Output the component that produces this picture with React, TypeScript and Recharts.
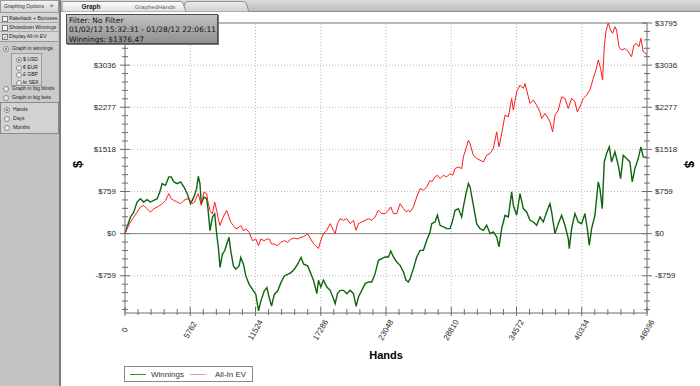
import { Line, LineChart, ReferenceLine, XAxis, YAxis } from "recharts";

// axis scaffolding
const HAND_STEP = 5762;
const HAND_MAX = 46096;
const DOLLAR_STEP = 759;
const DOLLAR_MAX = 3795;
const DOLLAR_MIN = -1430;

const handTickLabels = [0, 5762, 11524, 17286, 23048, 28810, 34572, 40334, 46096];
const dollarTickLabels = [-759, 0, 759, 1518, 2277, 3036, 3795];

// series (hands, dollars)
const winningsHands = [
  0, 177, 473, 768, 1064, 1359, 1655, 1950, 2246, 2541, 2837, 3073, 3280, 3576, 3871, 4078, 4314, 4610, 4905,
  5201, 5496, 5792, 5940, 6146, 6324, 6471, 6619, 6737, 6974, 7210, 7328, 7506, 7713, 7919, 8097, 8244, 8392,
  8599, 8806, 8983, 9190, 9338, 9574, 9781, 10077, 10224, 10461, 10668, 10963, 11259, 11554, 11790, 11997,
  12293, 12529, 12736, 12943, 13179, 13475, 13770, 14066, 14361, 14657, 14952, 15248, 15543, 15780, 16134,
  16645, 16940, 17087, 17292, 17528, 17822, 18116, 18410, 18557, 18763, 18998, 19292, 19586, 19881, 20175,
  20410, 20616, 20910, 21204, 21498, 21792, 22086, 22380, 22674, 22969, 23263, 23469, 23704, 23998, 24292,
  24586, 24821, 25027, 25174, 25468, 25762, 26057, 26351, 26645, 26939, 27086, 27380, 27586, 27821, 28115,
  28409, 28704, 28939, 29145, 29439, 29733, 29880, 30115, 30321, 30469, 30763, 31057, 31351, 31645, 31940,
  32234, 32528, 32822, 33028, 33263, 33557, 33851, 34145, 34292, 34586, 34881, 35175, 35469, 35763, 36057,
  36351, 36645, 36939, 37233, 37527, 37674, 37969, 38263, 38557, 38851, 39145, 39233, 39439, 39733, 40027,
  40322, 40616, 40822, 40998, 41204, 41498, 41792, 41939, 42145, 42321, 42527, 42763, 42968, 43263, 43557,
  43763, 43998, 44292, 44586, 44792, 45027, 45321, 45557, 45763, 46096,
];
const winnings = [
  0, 115, 296, 387, 569, 629, 569, 611, 569, 599, 629, 750, 901, 871, 1022, 1022, 932, 901, 932,
  841, 720, 538, 599, 690, 811, 1034, 901, 538, 659, 629, 448, 54, 296, 357, -6, -248, -611,
  -369, -309, -188, -67, -309, -581, -641, -581, -430, -551, -762, -914, -1004, -1095, -1390, -1216,
  -1035, -974, -1156, -1307, -1095, -1035, -883, -762, -732, -702, -641, -551, -430, -551, -581,
  -841, -1082, -841, -962, -841, -962, -1022, -1172, -1262, -1082, -1022, -1022, -1082, -1022, -1082,
  -1310, -1142, -1022, -901, -871, -871, -721, -481, -451, -421, -421, -313, -421, -511, -571,
  -691, -841, -871, -811, -631, -421, -301, -301, -120, 30, 180, 210, 331, 150, 120,
  90, 90, 240, 421, 451, 300, 481, 721, 902, 841, 511, 180, 90, 60, 150,
  0, 30, -60, -240, 90, 331, 301, 751, 511, 331, 721, 451, 391, 240, 210,
  150, 301, 210, 391, 541, 391, 0, 180, 331, 150, -90, -270, 90, 361, 210,
  180, 361, 90, -210, 90, 331, 932, 811, 451, 1292, 1442, 1562, 1292, 1473, 1232,
  992, 1412, 1352, 1292, 932, 1172, 1352, 1562, 1382, 1376,
];

const allInEvHands = [
  0, 177, 473, 768, 1064, 1359, 1655, 1950, 2246, 2541, 2837, 3073, 3280, 3576, 3871, 4078, 4314, 4610, 4905,
  5201, 5496, 5792, 5940, 6146, 6324, 6471, 6619, 6737, 6974, 7210, 7328, 7506, 7713, 7919, 8097, 8244, 8392,
  8599, 8806, 8983, 9190, 9338, 9574, 9781, 10077, 10224, 10461, 10668, 10963, 11259, 11554, 11790, 11997,
  12293, 12529, 12736, 12943, 13179, 13475, 13770, 14066, 14361, 14657, 14952, 15248, 15543, 15780, 16134,
  16645, 16940, 17087, 17292, 17528, 17822, 18116, 18410, 18557, 18763, 18998, 19292, 19586, 19881, 20175,
  20410, 20616, 20910, 21204, 21498, 21792, 22086, 22380, 22674, 22969, 23263, 23469, 23704, 23998, 24292,
  24586, 24821, 25027, 25174, 25468, 25762, 26057, 26351, 26645, 26939, 27086, 27380, 27586, 27821, 28115,
  28409, 28704, 28939, 29145, 29439, 29733, 29880, 30115, 30321, 30469, 30763, 31057, 31351, 31645, 31940,
  32234, 32528, 32822, 33028, 33263, 33557, 33851, 34145, 34292, 34586, 34881, 35175, 35322, 35469, 35763,
  36057, 36351, 36645, 36792, 37086, 37380, 37527, 37763, 37969, 38263, 38557, 38851, 39145, 39439, 39733,
  39939, 40174, 40469, 40763, 41057, 41351, 41586, 41792, 41998, 42174, 42321, 42468, 42674, 42880, 43057,
  43263, 43409, 43615, 43851, 44145, 44439, 44733, 44939, 45174, 45380, 45557, 45763, 46096,
];
const allInEv = [
  0, 85, 206, 296, 387, 478, 508, 448, 387, 448, 478, 508, 538, 599, 720, 629, 599, 569, 538,
  599, 629, 599, 538, 569, 659, 720, 599, 508, 750, 720, 569, 417, 357, 569, 417, 266, 145,
  266, 357, 417, 296, 206, 145, 85, 115, 145, 54, 85, 24, -127, -97, -218, -97,
  -127, -97, -97, -188, -188, -218, -157, -127, -157, -97, -79, -97, -67, -54, -6,
  -180, -240, -270, -120, 0, 60, 180, 60, 0, 180, 270, 240, 270, 180, 240,
  60, 180, 210, 240, 270, 240, 300, 421, 361, 361, 421, 481, 361, 361, 541,
  451, 391, 421, 391, 481, 661, 811, 781, 841, 962, 932, 1022, 1052, 992, 1052,
  1022, 1082, 1052, 1172, 1202, 1172, 1382, 1533, 1683, 1623, 1413, 1353, 1323, 1292, 1413,
  1443, 1533, 1834, 1563, 1804, 2135, 2105, 2435, 2225, 2556, 2676, 2616, 2706, 2586, 2345,
  2405, 2315, 2195, 2075, 2165, 2075, 2014, 1834, 2135, 2225, 2466, 2436, 2255, 2436, 2375,
  2195, 2285, 2436, 2496, 2586, 2796, 2946, 3127, 2976, 2766, 3367, 3638, 3795, 3668, 3608,
  3728, 3668, 3367, 3307, 3337, 3277, 3187, 3397, 3427, 3367, 3518, 3277, 3230,
];

const winningsData = winningsHands.map((h, i) => ({ h, v: winnings[i] }));
const allInEvData = allInEvHands.map((h, i) => ({ h, v: allInEv[i] }));

// five minor steps per labelled step
const handTicks = Array.from({ length: 41 }, (_, i) => (i * HAND_STEP) / 5);
const dollarTicks = Array.from({ length: 35 }, (_, i) => ((i - 9) * DOLLAR_STEP) / 5);
const handMajor = new Set(handTickLabels);
const dollarMajor = new Set(dollarTickLabels);

const AXIS = "#6e6e6e";
const LABEL = "#2a2a2a";
const GRID = "#bcbcbc";
const SANS = '"Liberation Sans", Arial, sans-serif';
const TICK_FONT = { fontFamily: SANS, fontSize: 8 };

const fmtDollar = (v: number) => (v < 0 ? `-$${Math.abs(v)}` : `$${v}`);

function BottomTick({ x, y, payload }: any) {
  const major = handMajor.has(payload.value);
  const axisY = y - 2;
  return (
    <g>
      <line x1={x} x2={x} y1={axisY - (major ? 6 : 4)} y2={axisY + (major ? 3 : 2)} stroke={AXIS} />
      {major && (
        <text
          transform={`translate(${x},${axisY + 17}) rotate(-60)`}
          textAnchor="middle"
          dominantBaseline="central"
          fill={LABEL}
          style={TICK_FONT}
        >
          {payload.value}
        </text>
      )}
    </g>
  );
}

function TopTick({ x, y, payload }: any) {
  const major = handMajor.has(payload.value);
  return <line x1={x} x2={x} y1={y} y2={y + (major ? 5 : 3)} stroke={AXIS} />;
}

function LeftTick({ x, y, payload }: any) {
  const major = dollarMajor.has(payload.value);
  const axisX = x + 8;
  // the top label sits under the filter box in the original, so it is left out
  const showLabel = major && payload.value !== DOLLAR_MAX;
  return (
    <g>
      <line x1={axisX - (major ? 5 : 3)} x2={axisX + (major ? 5 : 3)} y1={y} y2={y} stroke={AXIS} />
      {showLabel && (
        <text x={axisX - 9} y={y} textAnchor="end" dominantBaseline="central" fill={LABEL} style={TICK_FONT}>
          {fmtDollar(payload.value)}
        </text>
      )}
    </g>
  );
}

function RightTick({ x, y, payload }: any) {
  const major = dollarMajor.has(payload.value);
  const axisX = x - 8;
  return (
    <g>
      <line x1={axisX - (major ? 5 : 3)} x2={axisX + (major ? 5 : 3)} y1={y} y2={y} stroke={AXIS} />
      {major && (
        <text x={axisX + 8} y={y} textAnchor="start" dominantBaseline="central" fill={LABEL} style={TICK_FONT}>
          {fmtDollar(payload.value)}
        </text>
      )}
    </g>
  );
}

function Check({ on }: { on?: boolean }) {
  return (
    <span
      style={{
        position: "absolute", left: 2, top: 1, width: 4, height: 4, background: "#f4f4f4",
        border: "1px solid #7a7a7a", fontSize: 5, lineHeight: "4px", color: "#333", textAlign: "center",
      }}
    >
      {on ? "✓" : ""}
    </span>
  );
}

function Radio({ on, left }: { on?: boolean; left: number }) {
  return (
    <span
      style={{
        position: "absolute", left, top: 1, width: 4, height: 4, borderRadius: 3, background: "#eeeeee",
        border: "1px solid #8a8a8a", boxSizing: "content-box",
      }}
    >
      {on && (
        <span style={{ position: "absolute", left: 1, top: 1, width: 2, height: 2, borderRadius: 1, background: "#3c6a9e" }} />
      )}
    </span>
  );
}

function Row({ top, left, text, children }: { top: number; left: number; text: string; children?: any }) {
  return (
    <div style={{ position: "absolute", top, left: 0, width: 58, height: 7 }}>
      {children}
      <span style={{ position: "absolute", left, top: 0, fontSize: 5.1, lineHeight: "7px", color: "#222", whiteSpace: "nowrap" }}>
        {text}
      </span>
    </div>
  );
}

function Sidebar() {
  return (
    <div style={{ position: "absolute", left: 0, top: 0, width: 59, height: 386, background: "#c3c3c3", borderRight: "2px solid #7c7c7c", fontFamily: SANS }}>
      <div style={{ position: "absolute", left: 0, top: 0, width: 57, height: 11, background: "linear-gradient(#f2f2f2,#d2d2d2)", border: "1px solid #9a9a9a" }}>
        <span style={{ position: "absolute", left: 3, top: 2, fontSize: 5.1, color: "#333", whiteSpace: "nowrap" }}>Graphing Options</span>
        <span style={{ position: "absolute", left: 49, top: 1, fontSize: 6, color: "#333" }}>«</span>
      </div>
      <div style={{ position: "absolute", left: 0, top: 13, width: 58, height: 28, background: "#d6d6d6", borderBottom: "1px solid #9a9a9a" }}>
        <div style={{ position: "absolute", left: 0, top: 8.5, width: 58, height: 0, borderTop: "1px solid #a8a8a8" }} />
        <div style={{ position: "absolute", left: 0, top: 17.5, width: 58, height: 0, borderTop: "1px solid #a8a8a8" }} />
        <Row top={2} left={9} text="Rakeback + Bonuses"><Check /></Row>
        <Row top={10.5} left={9} text="Showdown Winnings"><Check /></Row>
        <Row top={19.5} left={9} text="Display All-In EV"><Check on /></Row>
      </div>
      <div style={{ position: "absolute", left: 0, top: 42, width: 58, height: 60, background: "#cbcbcb" }}>
        <Row top={3} left={12} text="Graph in winnings"><Radio on left={3} /></Row>
        <div style={{ position: "absolute", left: 11, top: 11, width: 29, height: 31, background: "#d4d4d4", border: "1px solid #9c9c9c" }}>
          <div style={{ position: "absolute", left: -11, top: 0 }}>
            <Row top={2} left={22} text="$ USD"><Radio on left={15} /></Row>
            <Row top={9.5} left={22} text="€ EUR"><Radio left={15} /></Row>
            <Row top={17} left={22} text="£ GBP"><Radio left={15} /></Row>
            <Row top={24.5} left={22} text="kr SEK"><Radio left={15} /></Row>
          </div>
        </div>
        <Row top={43} left={12} text="Graph in big blinds"><Radio left={3} /></Row>
        <Row top={52} left={12} text="Graph in big bets"><Radio left={3} /></Row>
      </div>
      <div style={{ position: "absolute", left: 0, top: 102, width: 57, height: 30, background: "#d2d2d2", border: "1px solid #8a8a8a" }}>
        <Row top={3} left={12} text="Hands"><Radio on left={3} /></Row>
        <Row top={12} left={12} text="Days"><Radio left={3} /></Row>
        <Row top={21} left={12} text="Months"><Radio left={3} /></Row>
      </div>
    </div>
  );
}

function TabBar() {
  return (
    <svg width={639} height={12} style={{ position: "absolute", left: 61, top: 0 }}>
      <defs>
        <linearGradient id="barG" x1="0" y1="0" x2="0" y2="1">
          <stop offset="0" stopColor="#dcdcdc" />
          <stop offset="1" stopColor="#b9b9b9" />
        </linearGradient>
        <linearGradient id="tabG" x1="0" y1="0" x2="0" y2="1">
          <stop offset="0" stopColor="#fdfdfd" />
          <stop offset="1" stopColor="#dedede" />
        </linearGradient>
        <linearGradient id="tab2G" x1="0" y1="0" x2="0" y2="1">
          <stop offset="0" stopColor="#ececec" />
          <stop offset="1" stopColor="#cfcfcf" />
        </linearGradient>
      </defs>
      <rect x={0} y={0} width={639} height={12} fill="url(#barG)" />
      <line x1={0} x2={639} y1={11.5} y2={11.5} stroke="#8c8c8c" />
      <path d="M121,12 L124,3 Q125,1.5 127,1.5 L182,1.5 Q184,1.5 185,3 L188,12 Z" fill="url(#tab2G)" stroke="#8f8f8f" />
      <path d="M1,12 L1,1.5 L119,1.5 Q121,1.5 122,3 L125,12 Z" fill="url(#tabG)" stroke="#8f8f8f" />
      <text x={30} y={9} textAnchor="middle" style={{ fontFamily: SANS, fontSize: 6.5, fontWeight: "bold" }} fill="#222">Graph</text>
      <text x={94} y={9} textAnchor="middle" style={{ fontFamily: SANS, fontSize: 6 }} fill="#666">GraphedHands</text>
    </svg>
  );
}

function FilterBox() {
  const line = { fontFamily: '"DejaVu Sans", sans-serif', fontSize: 7.5, lineHeight: "9.3px", height: 9.3, color: "#111", whiteSpace: "nowrap" as const };
  return (
    <div
      style={{
        position: "absolute", left: 66, top: 14, width: 148, height: 27, padding: "1px 0 0 2px",
        background: "linear-gradient(#c2c2c2,#8f8f8f)", border: "1px solid #4e4e4e", boxShadow: "1px 1px 0 #777",
      }}
    >
      <div style={line}>Filter: No Filter</div>
      <div style={line}>01/02/12 15:32:31 - 01/28/12 22:06:11</div>
      <div style={line}>Winnings: $1376.47</div>
    </div>
  );
}

function ChartLegend() {
  const txt = { position: "absolute" as const, top: 3, fontFamily: SANS, fontSize: 8, color: "#333", whiteSpace: "nowrap" as const };
  return (
    <div style={{ position: "absolute", left: 124, top: 366, width: 127, height: 14, background: "#fff", border: "1px solid #8a8a8a" }}>
      <div style={{ position: "absolute", left: 5, top: 7, width: 16, height: 0, borderTop: "1.5px solid #3d8a3d" }} />
      <span style={{ ...txt, left: 26 }}>Winnings</span>
      <div style={{ position: "absolute", left: 65, top: 7, width: 16, height: 0, borderTop: "1.5px solid #f49a9a" }} />
      <span style={{ ...txt, left: 90 }}>All-In EV</span>
    </div>
  );
}

export default function App() {
  return (
    <div style={{ position: "relative", width: 700, height: 386, overflow: "hidden", background: "#c3c3c3" }}>
      <style>{"body{margin:0}"}</style>
      <Sidebar />
      <TabBar />
      <div style={{ position: "absolute", left: 61, top: 12, width: 639, height: 374, background: "#ffffff" }}>
        <LineChart width={639} height={374} margin={{ top: 1, right: 0, bottom: 0, left: 0 }}>
          <XAxis
            xAxisId="bottom"
            dataKey="h"
            type="number"
            domain={[0, HAND_MAX]}
            ticks={handTicks}
            interval={0}
            height={73}
            tickSize={0}
            tickMargin={2}
            tickLine={false}
            tick={BottomTick}
            axisLine={{ stroke: AXIS }}
            label={{ value: "Hands", position: "insideBottom", offset: 27, style: { fontFamily: SANS, fontSize: 11, fontWeight: "bold", fill: "#000" } }}
          />
          <XAxis
            xAxisId="top"
            orientation="top"
            dataKey="h"
            type="number"
            domain={[0, HAND_MAX]}
            ticks={handTicks}
            interval={0}
            height={10}
            tickSize={0}
            tickMargin={0}
            tickLine={false}
            tick={TopTick}
            axisLine={{ stroke: AXIS }}
          />
          <YAxis
            yAxisId="left"
            type="number"
            domain={[DOLLAR_MIN, DOLLAR_MAX]}
            allowDataOverflow
            ticks={dollarTicks}
            interval={0}
            width={64}
            tickSize={0}
            tickMargin={8}
            tickLine={false}
            tick={LeftTick}
            axisLine={{ stroke: AXIS }}
            label={{ value: "$", angle: -90, position: "insideLeft", offset: 16, style: { fontFamily: SANS, fontSize: 13, fontWeight: "bold", fill: "#000" } }}
          />
          <YAxis
            yAxisId="right"
            orientation="right"
            type="number"
            domain={[DOLLAR_MIN, DOLLAR_MAX]}
            allowDataOverflow
            ticks={dollarTicks}
            interval={0}
            width={53}
            tickSize={0}
            tickMargin={8}
            tickLine={false}
            tick={RightTick}
            axisLine={{ stroke: AXIS }}
            label={{ value: "$", angle: 90, position: "insideRight", offset: 10, style: { fontFamily: SANS, fontSize: 13, fontWeight: "bold", fill: "#000" } }}
          />
          {handTickLabels.slice(1, -1).map((h) => (
            <ReferenceLine key={`gx${h}`} x={h} xAxisId="bottom" yAxisId="left" stroke={GRID} strokeDasharray="1 2" />
          ))}
          {dollarTickLabels
            .filter((d) => d !== 0 && d !== DOLLAR_MAX)
            .map((d) => (
              <ReferenceLine key={`gy${d}`} y={d} xAxisId="bottom" yAxisId="left" stroke={GRID} strokeDasharray="1 2" />
            ))}
          <ReferenceLine y={0} xAxisId="bottom" yAxisId="left" stroke="#7d7d7d" />
          <Line
            data={winningsData}
            dataKey="v"
            xAxisId="bottom"
            yAxisId="left"
            type="linear"
            stroke="#0d650d"
            strokeWidth={1.4}
            dot={false}
            isAnimationActive={false}
          />
          <Line
            data={allInEvData}
            dataKey="v"
            xAxisId="bottom"
            yAxisId="left"
            type="linear"
            stroke="#ff1a1a"
            strokeWidth={1}
            dot={false}
            isAnimationActive={false}
          />
        </LineChart>
      </div>
      <FilterBox />
      <ChartLegend />
    </div>
  );
}
